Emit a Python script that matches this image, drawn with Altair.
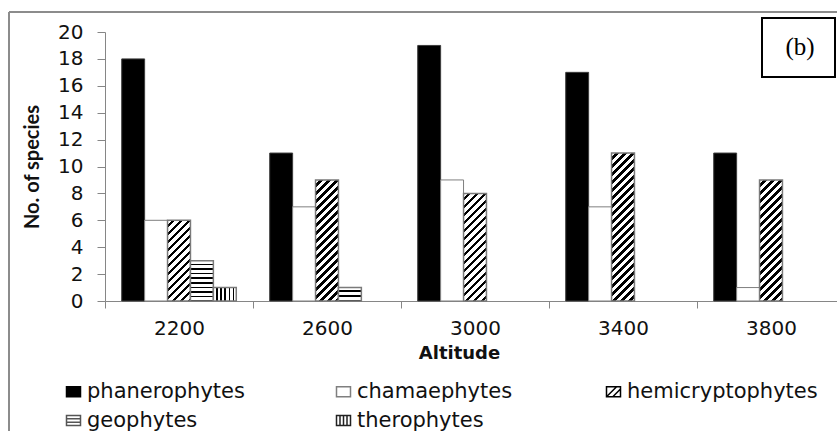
import altair as alt
import pandas as pd

# ---- data -------------------------------------------------------------
altitudes = ["2200", "2600", "3000", "3400", "3800"]
life_forms = ["phanerophytes", "chamaephytes", "hemicryptophytes", "geophytes", "therophytes"]

phanerophytes = [18, 11, 19, 17, 11]
chamaephytes = [6, 7, 9, 7, 1]
hemicryptophytes = [6, 9, 8, 11, 9]
geophytes = [3, 1, 0, 0, 0]
therophytes = [1, 0, 0, 0, 0]

y_ticks = [0, 2, 4, 6, 8, 10, 12, 14, 16, 18, 20]

counts = {
    "phanerophytes": phanerophytes,
    "chamaephytes": chamaephytes,
    "hemicryptophytes": hemicryptophytes,
    "geophytes": geophytes,
    "therophytes": therophytes,
}
df = pd.DataFrame(
    [
        {"altitude": a, "life_form": f, "species": counts[f][i]}
        for f in life_forms
        for i, a in enumerate(altitudes)
    ]
)

# ---- geometry ---------------------------------------------------------
LEFT, TOP, BOTTOM = 105, 32, 130
PLOT_W, PLOT_H = 732, 269
AXIS_SPAN = 740          # category axis keeps going past the right edge
OFFSET_PAD = 0.73        # outer padding of the bar cluster, in bar widths
Y_MAX = 20
PX_PER_UNIT = PLOT_H / Y_MAX
BAR_W = AXIS_SPAN / len(altitudes) / (len(life_forms) + 2 * OFFSET_PAD)

GREY = "#868686"
INK, PAPER = "black", "white"
LABEL_FONT = "DejaVu Sans"


# ---- hatch fills built from hard-stop gradients ----------------------
def stripe_stops(length, period, ink):
    stops = []
    pos = 0.0
    while pos < length - 1e-9:
        gap_end = min(pos + period - ink, length)
        end = min(pos + period, length)
        stops.append(alt.GradientStop(offset=round(pos / length, 5), color=PAPER))
        stops.append(alt.GradientStop(offset=round(gap_end / length, 5), color=PAPER))
        if gap_end < length:
            stops.append(alt.GradientStop(offset=round(gap_end / length, 5), color=INK))
            stops.append(alt.GradientStop(offset=round(end / length, 5), color=INK))
        pos += period
    return stops


def diagonal_hatch(h, w=BAR_W, period=8.0, ink=3.6):
    # stripes run along x + y = const, i.e. "/" at 45 degrees
    span = w + h
    k = span / (w * w + h * h)
    return alt.LinearGradient(
        gradient="linear", stops=stripe_stops(span, period, ink),
        x1=0, y1=0, x2=w * k, y2=h * k,
    )


def horizontal_hatch(h, period=4.6, ink=1.7):
    return alt.LinearGradient(
        gradient="linear", stops=stripe_stops(h, period, ink),
        x1=0.5, x2=0.5, y1=0, y2=1,
    )


def vertical_hatch(w=BAR_W, period=4.2, ink=1.6):
    return alt.LinearGradient(
        gradient="linear", stops=stripe_stops(w, period, ink),
        x1=0, x2=1, y1=0, y2=0,
    )


# ---- shared encodings -------------------------------------------------
x_enc = alt.X(
    "altitude:O",
    sort=altitudes,
    scale=alt.Scale(type="band", domain=altitudes, range=[0, AXIS_SPAN],
                    paddingInner=0, paddingOuter=0),
    axis=alt.Axis(
        title="Altitude", tickBand="extent", tickSize=7, labelPadding=10,
        labelAngle=0, labelFont=LABEL_FONT, labelFontSize=20, labelColor="#111",
        titleFont=LABEL_FONT, titleFontWeight="bold", titleFontSize=18,
        titleColor="#111", titleX=354, titleY=52, titleAlign="center",
        titleBaseline="middle", domainColor=GREY, tickColor=GREY, grid=False,
    ),
)
xoff_enc = alt.XOffset(
    "life_form:N",
    scale=alt.Scale(domain=life_forms, paddingInner=0, paddingOuter=OFFSET_PAD),
)
y_enc = alt.Y(
    "species:Q",
    scale=alt.Scale(domain=[0, Y_MAX], nice=False),
    axis=alt.Axis(
        title="No. of species", values=y_ticks, tickSize=8, labelPadding=14,
        labelFont=LABEL_FONT, labelFontSize=20, labelColor="#111",
        titleFont="Lato", titleFontWeight="bold", titleFontSize=20,
        titleColor="#111", titleX=-73, titleY=PLOT_H / 2, titleAlign="center",
        titleBaseline="middle", domainColor=GREY, tickColor=GREY, grid=False,
    ),
)

base = alt.Chart(df).encode(x=x_enc, xOffset=xoff_enc, y=y_enc)


def bars_of(form, **mark):
    return base.transform_filter(
        (alt.datum.life_form == form) & (alt.datum.species > 0)
    ).mark_bar(**mark)


def single_bar(form, altitude, **mark):
    return base.transform_filter(
        (alt.datum.life_form == form) & (alt.datum.altitude == altitude)
    ).mark_bar(**mark)


hatch_edge = dict(stroke="#7a7a7a", strokeWidth=1.5)

layers = [
    bars_of("phanerophytes", fill="black", stroke="#3c3c3c", strokeWidth=1),
    bars_of("chamaephytes", fill="white", stroke="#7f7f7f", strokeWidth=1),
]
for i, a in enumerate(altitudes):
    v = hemicryptophytes[i]
    if v > 0:
        layers.append(single_bar("hemicryptophytes", a,
                                 fill=diagonal_hatch(v * PX_PER_UNIT), **hatch_edge))
for i, a in enumerate(altitudes):
    v = geophytes[i]
    if v > 0:
        layers.append(single_bar("geophytes", a,
                                 fill=horizontal_hatch(v * PX_PER_UNIT), **hatch_edge))
layers.append(bars_of("therophytes", fill=vertical_hatch(), **hatch_edge))

# ---- legend (symbols drawn with custom paths) ------------------------
RECT = "M-1,-0.72H1V0.72H-1Z"
legend_shapes = [
    RECT,
    RECT,
    RECT + " M-1,0.72L0.44,-0.72 M-0.1,0.72L1,-0.4",
    RECT + " M-1,-0.24H1 M-1,0.24H1",
    RECT + " M-0.5,-0.72V0.72 M0,-0.72V0.72 M0.5,-0.72V0.72",
]
legend_fill = ["black", "white", "white", "white", "white"]
legend_stroke = ["black", "#7f7f7f", "black", "#555555", "#222222"]

legend_layer = (
    alt.Chart(df)
    .transform_filter(alt.datum.species < 0)
    .mark_point(filled=True, opacity=1)
    .encode(
        fill=alt.Fill("life_form:N", scale=alt.Scale(domain=life_forms, range=legend_fill),
                      legend=alt.Legend(title=None)),
        stroke=alt.Stroke("life_form:N", scale=alt.Scale(domain=life_forms, range=legend_stroke),
                          legend=alt.Legend(title=None)),
        shape=alt.Shape("life_form:N", scale=alt.Scale(domain=life_forms, range=legend_shapes),
                        legend=alt.Legend(title=None)),
    )
)
layers.append(legend_layer)

# ---- frame and panel tag ---------------------------------------------
one = pd.DataFrame({"k": [0]})
frame = alt.Chart(one).mark_rule(color="#8c8c8c", strokeWidth=2)
frame_top = frame.encode(x=alt.value(9 - LEFT), x2=alt.value(AXIS_SPAN), y=alt.value(12 - TOP))
frame_left = frame.encode(x=alt.value(9 - LEFT), y=alt.value(12 - TOP),
                          y2=alt.value(PLOT_H + BOTTOM + 5))

tag_box = alt.Chart(one).mark_rect(fill="white", stroke="black", strokeWidth=2).encode(
    x=alt.value(762 - LEFT), x2=alt.value(835 - LEFT),
    y=alt.value(18 - TOP), y2=alt.value(77 - TOP),
)
tag_text = alt.Chart(one).mark_text(
    text="(b)", font="Liberation Serif", fontSize=25, align="center",
    baseline="middle", color="black",
).encode(x=alt.value(800 - LEFT), y=alt.value(47 - TOP))

chart = (
    alt.layer(frame_top, frame_left, *layers, tag_box, tag_text)
    .properties(
        width=PLOT_W,
        height=PLOT_H,
        autosize=alt.AutoSizeParams(type="none"),
        padding={"left": LEFT, "top": TOP, "right": 0, "bottom": BOTTOM},
        background="white",
    )
    .configure_view(strokeWidth=0)
    .configure_legend(
        orient="none", direction="horizontal", legendX=63 - LEFT, legendY=381 - TOP,
        columns=3, gridAlign="all", columnPadding=55, rowPadding=7, padding=0,
        symbolSize=196, symbolStrokeWidth=1.5, labelOffset=3, labelLimit=300,
        labelFont=LABEL_FONT, labelFontSize=21, labelColor="#111",
    )
)

chart.save("out.html", embed_options={"renderer": "svg", "actions": False})
